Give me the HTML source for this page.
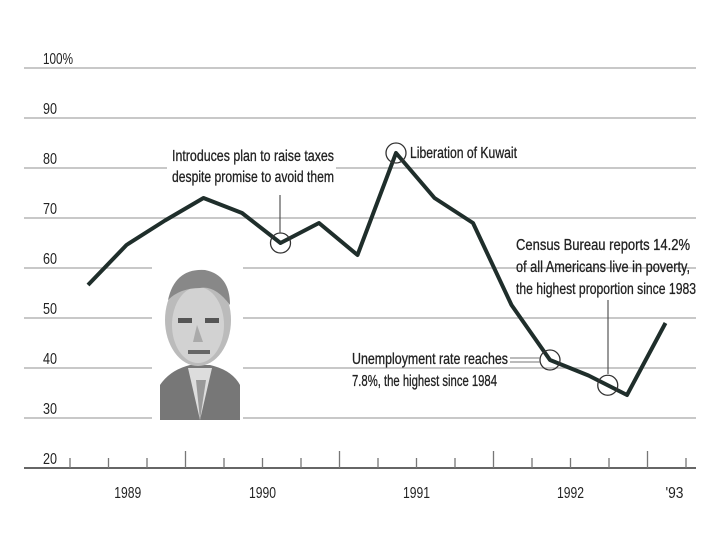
<!DOCTYPE html>
<html><head><meta charset="utf-8"><style>
html,body{margin:0;padding:0;background:#fff;}
svg{display:block;}
text{font-family:"Liberation Sans",sans-serif;fill:#222;}
.ann{font-size:16px;stroke:#222;stroke-width:0.3;}
</style></head><body>
<svg id="chart" width="720" height="540" viewBox="0 0 720 540">
<g id="grid"></g>
<g id="yticks"></g>
<g id="xaxis"></g>
<g>
  <rect x="160" y="270" width="80" height="150" fill="#fff"/>
  <path d="M160 420 L160 385 Q170 370 190 365 L210 365 Q232 370 240 385 L240 420 Z" fill="#777"/>
  <path d="M188 368 L200 420 L212 368 Z" fill="#ddd"/>
  <path d="M196 380 L200 420 L206 380 Z" fill="#999"/>
  <ellipse cx="198" cy="320" rx="33" ry="46" fill="#bbb"/>
  <ellipse cx="198" cy="325" rx="26" ry="38" fill="#d2d2d2"/>
  <path d="M168 300 Q175 268 205 270 Q230 275 230 305 Q215 285 200 288 Q180 288 168 300Z" fill="#888"/>
  <rect x="178" y="318" width="14" height="5" fill="#555"/>
  <rect x="205" y="318" width="14" height="5" fill="#555"/>
  <path d="M197 325 L193 342 L203 342 Z" fill="#aaa"/>
  <rect x="188" y="350" width="22" height="4" fill="#666"/>
</g>
<path id="line" fill="none" stroke="#1f2e2b" stroke-width="4" stroke-linejoin="round"/>
<g id="marks"></g>
<g>
  <text class="ann" x="172" y="161" textLength="162" lengthAdjust="spacingAndGlyphs">Introduces plan to raise taxes</text>
  <text class="ann" x="172" y="182" textLength="162" lengthAdjust="spacingAndGlyphs">despite promise to avoid them</text>
  <line x1="280" y1="195" x2="280" y2="233" stroke="#555" stroke-width="1.2"/>
  <text class="ann" x="410" y="158" textLength="107" lengthAdjust="spacingAndGlyphs">Liberation of Kuwait</text>
  <text class="ann" x="516" y="250" textLength="174" lengthAdjust="spacingAndGlyphs">Census Bureau reports 14.2%</text>
  <text class="ann" x="516" y="272" textLength="174" lengthAdjust="spacingAndGlyphs">of all Americans live in poverty,</text>
  <text class="ann" x="516" y="294" textLength="180" lengthAdjust="spacingAndGlyphs">the highest proportion since 1983</text>
  <line x1="608" y1="300" x2="608" y2="374" stroke="#555" stroke-width="1.2"/>
  <text class="ann" x="352" y="364" textLength="156" lengthAdjust="spacingAndGlyphs">Unemployment rate reaches</text>
  <text class="ann" x="352" y="386" textLength="145" lengthAdjust="spacingAndGlyphs">7.8%, the highest since 1984</text>
  <line x1="510" y1="358" x2="540" y2="358" stroke="#777" stroke-width="1"/>
  <line x1="510" y1="362" x2="540" y2="362" stroke="#777" stroke-width="1"/>
</g>
</svg>
<script>
const yTicks=[100,90,80,70,60,50,40,30,20];
const yearLabels=['1989','1990','1991','1992',"'93"];
const yearPos=[1.5,5,9,13,15.7];
const values=[56.6,64.6,69.5,74,71,65,69,62.6,83,74,69,52.6,41.6,38.5,34.6,49];
const circleIdx=[5,8,12,13.5];
const NS='http://www.w3.org/2000/svg';
function X(i){return 88+38.5*i;}
function tX(i){return 70+38.5*i;}
function Y(v){return 468-(v-20)*5;}
function mk(t,a,p){const e=document.createElementNS(NS,t);for(const k in a)e.setAttribute(k,a[k]);p.appendChild(e);return e;}
const grid=document.getElementById('grid'),yt=document.getElementById('yticks'),xa=document.getElementById('xaxis');
const gaps={80:[167,336],60:[152,243],50:[152,243],40:[152,243],30:[152,243]};
yTicks.forEach(v=>{
  const y=Y(v);
  if(v>20){
    const segs=gaps[v]?[[24,gaps[v][0]],[gaps[v][1],696]]:[[24,696]];
    segs.forEach(s=>{const l=mk('line',{x1:s[0],x2:s[1],y1:y,y2:y,stroke:'#b5b5b5','stroke-width':1.5},grid);
      
      });
  }
  const t=mk('text',{x:43,y:y-4,'font-size':16,fill:'#444',textLength:v==100?30:14,lengthAdjust:'spacingAndGlyphs'},yt);
  t.textContent=v==100?'100%':String(v);
  
  
});
const ax=mk('line',{x1:24,x2:696,y1:468,y2:468,stroke:'#666','stroke-width':2},xa);


for(let i=0;i<17;i++){
  const major=(i%4===3);
  const tk=mk('line',{x1:tX(i),x2:tX(i),y1:468,y2:major?451:458,stroke:'#777','stroke-width':1.3},xa);
  
  
}
yearLabels.forEach((s,i)=>{
  const t=mk('text',{x:tX(yearPos[i]),y:498,'font-size':16,fill:'#333','text-anchor':'middle',textLength:s.length>3?27:18,lengthAdjust:'spacingAndGlyphs'},xa);
  t.textContent=s;
  
  
});
document.getElementById('line').setAttribute('d',values.map((v,i)=>(i?'L':'M')+X(i)+' '+Y(v)).join(' '));
function valAt(i){const a=Math.floor(i),b=Math.min(a+1,values.length-1),f=i-a;return values[a]*(1-f)+values[b]*f;}
const marks=document.getElementById('marks');
circleIdx.forEach(i=>{
  const c=mk('circle',{cx:X(i),cy:Y(valAt(i)),r:10,fill:'none',stroke:'#333','stroke-width':1.3},marks);
  
  
});
</script>
</body></html>
